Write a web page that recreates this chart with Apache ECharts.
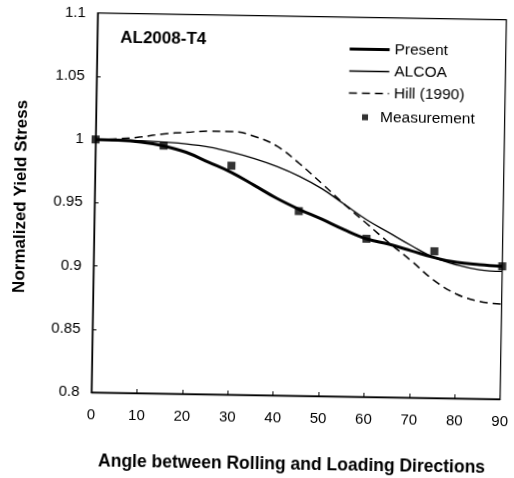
<!DOCTYPE html>
<html>
<head>
<meta charset="utf-8">
<script src="https://cdn.jsdelivr.net/npm/echarts@6/dist/echarts.min.js"></script>
<style>
  html, body { margin: 0; padding: 0; background: #fff; overflow: hidden; }
  #chart { width: 514px; height: 478px; transform: rotate(0.95deg); transform-origin: 257px 239px; }
</style>
</head>
<body>
<div id="chart"></div>
<script>
// ---- data ----
const angles = [0, 5, 10, 15, 20, 25, 30, 35, 40, 45, 50, 55, 60, 65, 70, 75, 80, 85, 90];
const present = [1.0, 0.9998, 0.9986, 0.9958, 0.991, 0.9834, 0.9757, 0.966, 0.956, 0.9475, 0.940, 0.932, 0.925, 0.921, 0.916, 0.911, 0.9075, 0.906, 0.905];
const alcoa   = [1.0, 1.0, 0.9996, 0.9988, 0.9976, 0.9954, 0.9917, 0.987, 0.981, 0.9735, 0.964, 0.952, 0.940, 0.930, 0.920, 0.911, 0.9055, 0.902, 0.901];
const hill    = [1.0, 1.0008, 1.0026, 1.0053, 1.0068, 1.008, 1.008, 1.0045, 0.997, 0.9835, 0.968, 0.952, 0.937, 0.922, 0.908, 0.893, 0.8825, 0.877, 0.875];
const measAngles = [0, 15, 30, 45, 60, 75, 90];
const measValues = [1.0, 0.996, 0.981, 0.946, 0.925, 0.916, 0.905];
const xTicks = [0, 10, 20, 30, 40, 50, 60, 70, 80, 90];
const yTicks = [0.8, 0.85, 0.9, 0.95, 1, 1.05, 1.1];
const yTickLabels = ['0.8', '0.85', '0.9', '0.95', '1', '1.05', '1.1'];
const seriesNames = ['Present', 'ALCOA', 'Hill (1990)', 'Measurement'];
const chartTitle = 'AL2008-T4';
const xName = 'Angle between Rolling and Loading Directions';
const yName = 'Normalized Yield Stress';

// ---- chart ----
const FONT = '"Liberation Sans", Arial, Helvetica, sans-serif';
const pair = (xs, ys) => xs.map((x, i) => [x, ys[i]]);
const styles = [
  { color: '#000', width: 3 },
  { color: '#000', width: 1.3 },
  { color: '#000', width: 1.5, type: [8, 5] }
];

const chart = echarts.init(document.getElementById('chart'), null, { renderer: 'canvas' });
chart.setOption({
  backgroundColor: '#fff',
  animation: false,
  textStyle: { fontFamily: FONT, color: '#000' },
  title: {
    text: chartTitle,
    left: 117, top: 31.5, padding: 0,
    textStyle: { fontFamily: FONT, fontSize: 17, fontWeight: 'bold', color: '#000', lineHeight: 17 }
  },
  grid: {
    left: 94, right: 11, top: 15.7, bottom: 82,
    show: true, borderColor: '#000', borderWidth: 1.2, backgroundColor: 'transparent'
  },
  legend: [
    {
      data: seriesNames.slice(0, 3).map((n, i) => ({ name: n, lineStyle: styles[i] })),
      orient: 'vertical', left: 345, top: 36.5, padding: 0,
      itemWidth: 40, itemHeight: 14, itemGap: 0,
      itemStyle: { opacity: 0 },
      textStyle: { fontFamily: FONT, fontSize: 15.5, color: '#000', lineHeight: 22 },
      selectedMode: false
    },
    {
      data: [seriesNames[3]],
      orient: 'vertical', left: 360, top: 104.5, padding: 0,
      itemWidth: 6, itemHeight: 6, itemGap: 0,
      textStyle: { fontFamily: FONT, fontSize: 15.5, color: '#000', lineHeight: 22, padding: [0, 0, 0, 7] },
      selectedMode: false
    }
  ],
  xAxis: {
    type: 'value', min: xTicks[0], max: xTicks[xTicks.length - 1], interval: 10,
    name: xName, nameLocation: 'middle', nameGap: 60,
    nameTextStyle: { fontFamily: FONT, fontSize: 17.5, fontWeight: 'bold', color: '#000', padding: [0, 6, 0, 0] },
    axisLine: { show: true, lineStyle: { color: '#000', width: 1.3 } },
    axisTick: { show: true, inside: true, length: 4, lineStyle: { color: '#000', width: 1 } },
    axisLabel: { margin: 15, fontFamily: FONT, fontSize: 15, color: '#000',
      formatter: v => (xTicks.indexOf(v) >= 0 ? String(v) : '') },
    splitLine: { show: false }
  },
  yAxis: {
    type: 'value', min: yTicks[0], max: yTicks[yTicks.length - 1], interval: 0.05,
    name: yName, nameLocation: 'middle', nameGap: 65, nameRotate: 90,
    nameTextStyle: { fontFamily: FONT, fontSize: 17, fontWeight: 'bold', color: '#000', padding: [0, 0, 0, 10] },
    axisLine: { show: true, lineStyle: { color: '#000', width: 1.3 } },
    axisTick: { show: true, inside: true, length: 4, lineStyle: { color: '#000', width: 1 } },
    axisLabel: { margin: 12, fontFamily: FONT, fontSize: 15, color: '#000',
      formatter: v => { const i = yTicks.findIndex(t => Math.abs(t - v) < 1e-6); return i >= 0 ? yTickLabels[i] : ''; } },
    splitLine: { show: false }
  },
  series: [
    {
      name: seriesNames[0], type: 'line', data: pair(angles, present), smooth: 0.4,
      symbol: 'none', lineStyle: styles[0], itemStyle: { color: '#000' }, z: 3
    },
    {
      name: seriesNames[1], type: 'line', data: pair(angles, alcoa), smooth: 0.4,
      symbol: 'none', lineStyle: styles[1], itemStyle: { color: '#000' }, z: 2
    },
    {
      name: seriesNames[2], type: 'line', data: pair(angles, hill), smooth: 0.4,
      symbol: 'none', lineStyle: styles[2], itemStyle: { color: '#000' }, z: 2
    },
    {
      name: seriesNames[3], type: 'scatter', data: pair(measAngles, measValues),
      symbol: 'rect', symbolSize: 8, clip: false, itemStyle: { color: '#000' }, z: 5
    }
  ]
});
</script>
</body>
</html>
